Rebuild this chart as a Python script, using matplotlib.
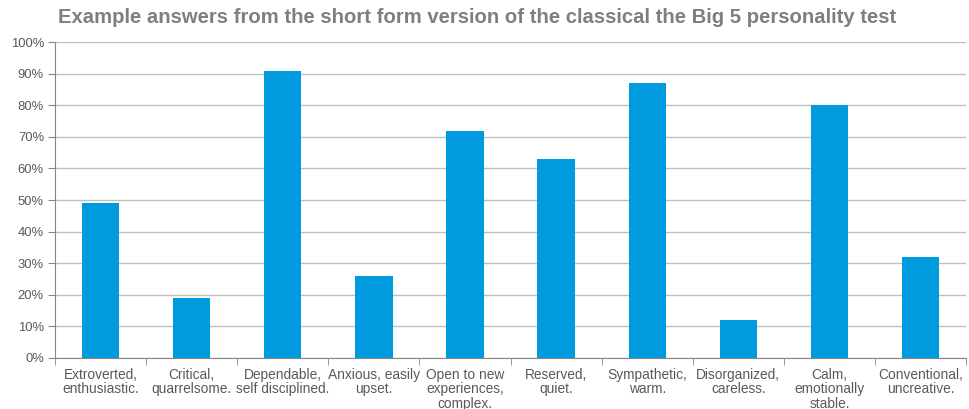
import numpy as np
import matplotlib
matplotlib.use('Agg')
import matplotlib.pyplot as plt
from matplotlib.ticker import PercentFormatter

categories = ['Extroverted,\nenthusiastic.', 'Critical,\nquarrelsome.',
              'Dependable,\nself disciplined.', 'Anxious, easily\nupset.',
              'Open to new\nexperiences,\ncomplex.', 'Reserved,\nquiet.',
              'Sympathetic,\nwarm.', 'Disorganized,\ncareless.',
              'Calm,\nemotionally\nstable.', 'Conventional,\nuncreative.']
values = [49, 19, 91, 26, 72, 63, 87, 12, 80, 32]

plt.rcParams['font.family'] = ['Liberation Sans', 'DejaVu Sans']

fig = plt.figure(figsize=(9.69, 4.09), dpi=100)
ax = fig.add_axes([0.0568, 0.1247, 0.9402, 0.7723])

x = np.arange(len(values))
ax.bar(x, values, width=0.41, color='#009ADE', zorder=3)

ax.set_xlim(-0.5, len(values) - 0.5)
ax.set_ylim(0, 100)
ax.set_yticks(np.arange(0, 101, 10))
ax.yaxis.set_major_formatter(PercentFormatter(decimals=0))
ax.grid(axis='y', color='#bfbfbf', linewidth=1, zorder=0)

ax.set_xticks(x)
ax.set_xticklabels(categories, fontsize=9.9, color='#595959', linespacing=1.05)
ax.tick_params(axis='x', length=0, pad=7)
ax.set_xticks(np.arange(-0.5, len(values), 1), minor=True)
ax.tick_params(axis='x', which='minor', length=5, color='#868686')
ax.tick_params(axis='y', length=5, color='#868686', labelsize=9.4,
               labelcolor='#595959', pad=3)

for side in ['top', 'right']:
    ax.spines[side].set_visible(False)
for side in ['left', 'bottom']:
    ax.spines[side].set_color('#868686')

fig.text(0.06, 0.956, 'Example answers from the short form version of the classical the Big 5 personality test',
         fontsize=14.6, fontweight='bold', color='#7f7f7f', va='center', ha='left')

fig.savefig('out.png', dpi=100)
